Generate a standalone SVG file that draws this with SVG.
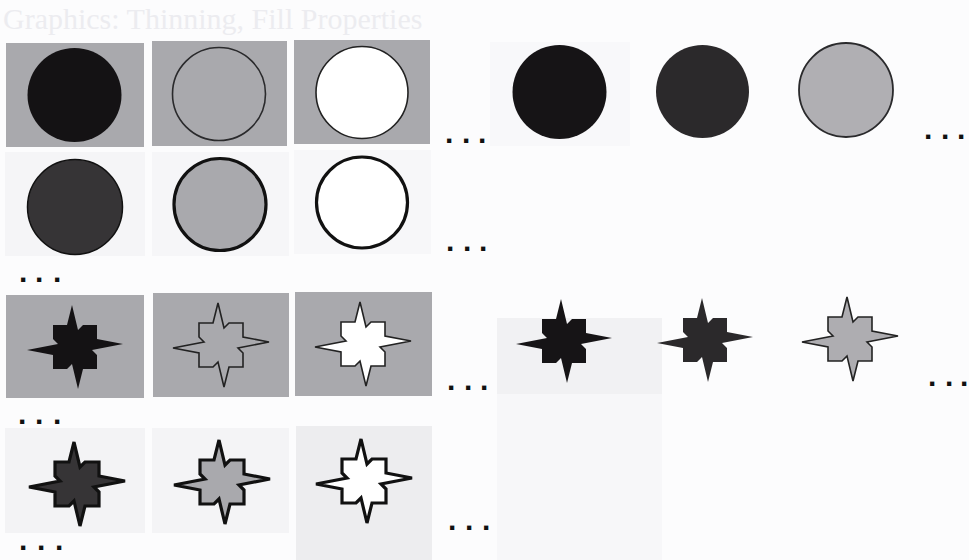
<svg xmlns="http://www.w3.org/2000/svg" xmlns:xlink="http://www.w3.org/1999/xlink" width="969" height="560" viewBox="0 0 969 560">
<style>
.bg{fill:#a9a9ad}
.dots{font-family:"Liberation Sans",Arial,sans-serif;font-size:30px;font-weight:bold;fill:#111}
.title{font-family:"Liberation Serif","Times New Roman",serif;font-size:30px;fill:#ececf0}
.thin{stroke:#222;stroke-width:1.6;stroke-linejoin:miter}
.thick{stroke:#111;stroke-width:3.2;stroke-linejoin:miter}
</style>
<defs>
<path id="star" d="M-22,-22 L-8,-22 L-3,-42 L3,-17 L8,-22 L22,-22 L22,-8 L48,-3 L17,3 L22,8 L22,22 L8,22 L3,42 L-3,17 L-8,22 L-22,22 L-22,8 L-48,3 L-17,-3 L-22,-8 Z"/>
</defs>
<rect width="969" height="560" fill="#fcfcfd"/>
<text class="title" x="3" y="29">Graphics: Thinning, Fill Properties</text>

<!-- faint backgrounds -->
<rect x="5" y="152" width="140" height="104" fill="#f5f5f7"/>
<rect x="152" y="152" width="137" height="104" fill="#f6f6f8"/>
<rect x="294" y="150" width="137" height="104" fill="#f7f7f9"/>
<rect x="490" y="42" width="140" height="104" fill="#f8f8fa"/>
<rect x="497" y="318" width="165" height="76" fill="#f1f1f3"/>
<rect x="497" y="394" width="165" height="166" fill="#f7f7f9"/>
<rect x="5" y="428" width="140" height="105" fill="#f3f3f5"/>
<rect x="152" y="428" width="137" height="105" fill="#f4f4f6"/>
<rect x="296" y="426" width="136" height="134" fill="#ededef"/>

<!-- Row 1 -->
<g id="c1"><rect class="bg" x="6" y="43" width="138" height="104"/><circle cx="74.5" cy="95" r="47" fill="#141214"/></g>
<g id="c2"><rect class="bg" x="152" y="41" width="135" height="105"/><circle cx="219" cy="94" r="46.5" fill="#a9a9ad" stroke="#2a2a2c" stroke-width="1.6"/></g>
<g id="c3"><rect class="bg" x="294" y="40" width="136" height="104"/><circle cx="362" cy="92.5" r="46" fill="#ffffff" stroke="#222" stroke-width="1.6"/></g>
<g id="c7"><circle cx="559.5" cy="92" r="47" fill="#161416"/></g>
<g id="c8"><circle cx="702.5" cy="91.5" r="46.5" fill="#2b292b"/></g>
<g id="c9"><circle cx="846" cy="90" r="47" fill="#b0afb3" stroke="#2a2a2c" stroke-width="1.8"/></g>

<!-- Row 2 -->
<g id="c4"><circle cx="75" cy="207" r="47.5" fill="#363436" stroke="#111" stroke-width="1.5"/></g>
<g id="c5"><circle cx="220" cy="204.5" r="46" fill="#a9a9ad" stroke="#111" stroke-width="3.2"/></g>
<g id="c6"><circle cx="362" cy="202.5" r="45.5" fill="#ffffff" stroke="#111" stroke-width="3.2"/></g>

<!-- Row 3 stars -->
<g id="s1"><rect class="bg" x="6" y="295" width="138" height="103"/><use xlink:href="#star" x="75" y="347" fill="#141214"/></g>
<g id="s2"><rect class="bg" x="153" y="293" width="136" height="104"/><use xlink:href="#star" x="221" y="345" fill="#a9a9ad" class="thin"/></g>
<g id="s3"><rect class="bg" x="295" y="292" width="137" height="104"/><use xlink:href="#star" x="363" y="344" fill="#ffffff" class="thin"/></g>
<g id="s7"><use xlink:href="#star" x="564" y="341" fill="#161416"/></g>
<g id="s8"><use xlink:href="#star" x="705" y="340" fill="#2b292b"/></g>
<g id="s9"><use xlink:href="#star" x="850" y="339" fill="#aeadb1" class="thin"/></g>

<!-- Row 4 stars -->
<g id="s4"><use xlink:href="#star" x="77" y="484" fill="#363436" class="thick"/></g>
<g id="s5"><use xlink:href="#star" x="222" y="482" fill="#a9a9ad" class="thick"/></g>
<g id="s6"><use xlink:href="#star" x="364" y="481" fill="#ffffff" class="thick"/></g>

<!-- ellipses -->
<g id="ellipses">
<text class="dots" x="445 462 478" y="143">...</text>
<text class="dots" x="924 941 957" y="139">...</text>
<text class="dots" x="446 463 479" y="251">...</text>
<text class="dots" x="19 35 53" y="282">...</text>
<text class="dots" x="447 464 480" y="390">...</text>
<text class="dots" x="928 945 960" y="386">...</text>
<text class="dots" x="18 35 53" y="424">...</text>
<text class="dots" x="448 465 482" y="530">...</text>
<text class="dots" x="19 37 55" y="550">...</text>
</g>
</svg>
